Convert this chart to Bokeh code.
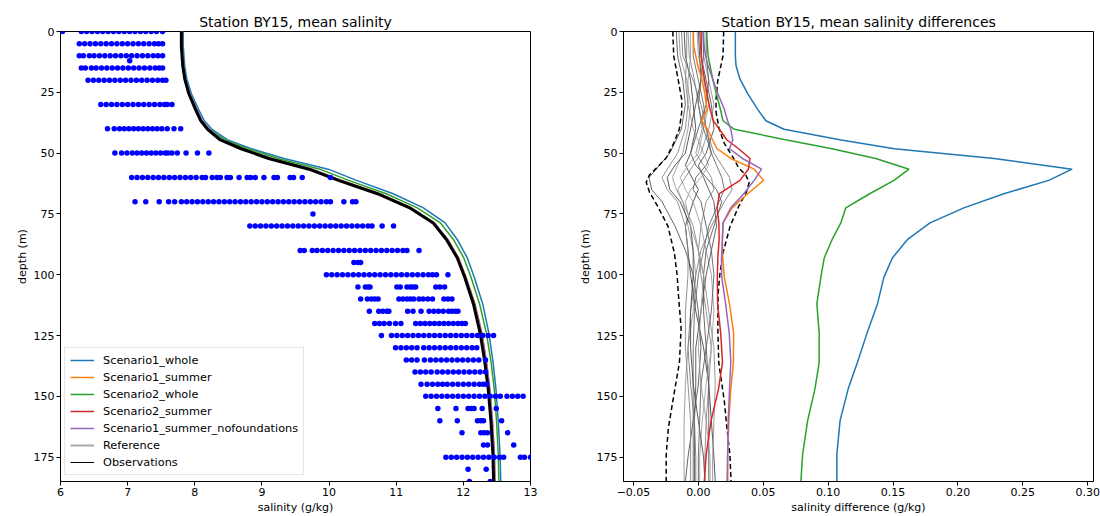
import numpy as np
from bokeh.plotting import figure
from bokeh.layouts import row
from bokeh.models import Range1d, FixedTicker, Legend, LegendItem, CustomJSTickFormatter
from bokeh.embed import file_html
from bokeh.resources import INLINE

FONT = "DejaVu Sans"

# ---------------- observations (left panel) ----------------
obs_depths = [0, 5, 10, 12, 15, 20, 30, 40, 50, 60, 70, 75, 80, 90, 95, 100,
              105, 110, 115, 120, 125, 130, 135, 140, 145, 150, 155, 160, 165,
              170, 175, 180, 185]
obs_values = [
    [6.03, 6.31, 6.39, 6.47, 6.55, 6.63, 6.71, 6.79, 6.87, 6.95, 7.03, 7.11, 7.19, 7.27, 7.35, 7.43, 7.52],
    [6.28, 6.36, 6.44, 6.52, 6.60, 6.68, 6.76, 6.84, 6.92, 7.00, 7.08, 7.16, 7.24, 7.32, 7.40, 7.46, 7.52],
    [6.28, 6.34, 6.43, 6.50, 6.58, 6.66, 6.74, 6.82, 6.90, 6.98, 7.06, 7.14, 7.22, 7.30, 7.38, 7.45, 7.52],
    [7.03],
    [6.31, 6.37, 6.46, 6.53, 6.61, 6.69, 6.77, 6.85, 6.93, 7.01, 7.09, 7.17, 7.25, 7.33, 7.41, 7.47, 7.52],
    [6.41, 6.49, 6.57, 6.65, 6.73, 6.81, 6.89, 6.97, 7.05, 7.13, 7.21, 7.29, 7.37, 7.45, 7.52, 7.57],
    [6.60, 6.68, 6.76, 6.84, 6.92, 7.00, 7.08, 7.16, 7.24, 7.32, 7.40, 7.48, 7.55, 7.59, 7.66],
    [6.70, 6.80, 6.88, 6.95, 7.02, 7.09, 7.16, 7.23, 7.30, 7.37, 7.44, 7.51, 7.59, 7.69, 7.79],
    [6.81, 6.91, 6.99, 7.07, 7.14, 7.21, 7.28, 7.35, 7.42, 7.49, 7.56, 7.60, 7.66, 7.74, 7.87, 8.04, 8.21],
    [7.06, 7.14, 7.22, 7.30, 7.38, 7.46, 7.54, 7.62, 7.70, 7.78, 7.86, 7.94, 8.02, 8.11, 8.16, 8.26,
     8.33, 8.38, 8.48, 8.53, 8.66, 8.78, 8.83, 8.90, 9.03, 9.18, 9.23, 9.42, 9.47, 9.60, 10.02],
    [7.11, 7.27, 7.47, 7.61, 7.70, 7.80, 7.88, 7.96, 8.04, 8.12, 8.20, 8.28, 8.36, 8.44, 8.52, 8.60,
     8.68, 8.76, 8.84, 8.92, 9.00, 9.08, 9.16, 9.24, 9.32, 9.40, 9.48, 9.56, 9.64, 9.72, 9.80, 9.88,
     9.96, 10.02, 10.22, 10.35, 10.40],
    [9.76],
    [8.82, 8.90, 8.98, 9.06, 9.14, 9.22, 9.30, 9.38, 9.46, 9.54, 9.62, 9.70, 9.78, 9.86, 9.94, 10.02,
     10.10, 10.18, 10.26, 10.34, 10.42, 10.50, 10.58, 10.64, 10.79, 10.96],
    [9.57, 9.63, 9.75, 9.82, 9.90, 9.98, 10.06, 10.14, 10.22, 10.30, 10.38, 10.46, 10.54, 10.62, 10.70,
     10.78, 10.86, 10.94, 11.02, 11.10, 11.16, 11.34],
    [10.37, 10.43, 10.47],
    [9.96, 10.04, 10.12, 10.20, 10.28, 10.36, 10.44, 10.52, 10.60, 10.68, 10.76, 10.84, 10.92, 11.00,
     11.08, 11.16, 11.24, 11.32, 11.40, 11.48, 11.54, 11.60, 11.77],
    [10.43, 10.54, 10.58, 10.61, 11.01, 11.06, 11.16, 11.21, 11.25, 11.29, 11.59, 11.65, 11.72],
    [10.47, 10.57, 10.63, 10.68, 10.73, 11.04, 11.10, 11.16, 11.21, 11.26, 11.34, 11.40, 11.47, 11.54,
     11.71, 11.77, 11.83],
    [10.60, 10.74, 10.80, 10.86, 10.89, 11.17, 11.25, 11.37, 11.49, 11.56, 11.63, 11.70, 11.78, 11.83,
     11.88, 11.92],
    [10.68, 10.75, 10.82, 10.90, 10.99, 11.07, 11.29, 11.36, 11.43, 11.50, 11.57, 11.64, 11.71, 11.78,
     11.85, 11.92, 11.98, 12.03],
    [10.78, 10.93, 11.01, 11.09, 11.17, 11.25, 11.33, 11.41, 11.49, 11.57, 11.65, 11.73, 11.81, 11.89,
     11.97, 12.05, 12.13, 12.21, 12.29, 12.37, 12.45],
    [10.99, 11.07, 11.15, 11.23, 11.31, 11.41, 11.49, 11.57, 11.65, 11.73, 11.81, 11.89, 11.97, 12.05,
     12.13, 12.20],
    [11.15, 11.23, 11.31, 11.42, 11.51, 11.59, 11.67, 11.75, 11.83, 11.91, 11.99, 12.07, 12.15, 12.23, 12.33],
    [11.28, 11.36, 11.44, 11.52, 11.61, 11.69, 11.77, 11.85, 11.93, 12.01, 12.09, 12.17, 12.25, 12.33],
    [11.37, 11.46, 11.54, 11.62, 11.69, 11.76, 11.84, 11.92, 12.00, 12.08, 12.16, 12.24, 12.30, 12.35],
    [11.44, 11.52, 11.60, 11.68, 11.76, 11.84, 11.92, 12.00, 12.08, 12.16, 12.24, 12.32, 12.40, 12.48,
     12.55, 12.65, 12.73, 12.81, 12.89],
    [11.62, 11.89, 12.07, 12.12, 12.16, 12.28, 12.49],
    [11.65, 11.91, 12.21, 12.26, 12.30, 12.57],
    [11.98, 12.26, 12.31, 12.36, 12.66],
    [12.30, 12.36, 12.75],
    [11.74, 11.82, 11.90, 11.98, 12.06, 12.14, 12.22, 12.30, 12.38, 12.46, 12.54, 12.60, 12.85, 12.91, 13.00],
    [12.07, 12.34],
    [12.09, 12.40],
]

# ---------------- model profiles ----------------
model_depth = [0, 2, 6, 10, 14, 19.5, 25.5, 32, 36.7, 40.2, 44.6, 48.2, 52.2, 56.6, 61.2, 66.7,
               72.5, 78.7, 85.6, 93.1, 101, 112, 124, 136, 147, 160, 174, 185]
reference_salinity = [7.80, 7.80, 7.80, 7.81, 7.82, 7.85, 7.91, 8.01, 8.09, 8.19, 8.38, 8.69, 9.10,
                      9.70, 10.14, 10.72, 11.20, 11.55, 11.75, 11.91, 12.02, 12.15, 12.25, 12.32,
                      12.37, 12.41, 12.44, 12.45]

diff_s1_whole = [0.0285, 0.0285, 0.0285, 0.0285, 0.029, 0.032, 0.038, 0.0457, 0.052, 0.066, 0.110,
                 0.151, 0.228, 0.288, 0.270, 0.2354, 0.2046, 0.1785, 0.161, 0.1495, 0.143, 0.138,
                 0.130, 0.1226, 0.1154, 0.1092, 0.1067, 0.1067]
diff_s1_summer = [-0.0038, -0.0038, -0.0036, -0.002, -0.0005, 0.0026, 0.005, 0.0067, 0.0026, 0.007,
                  0.011, 0.0144, 0.025, 0.043, 0.0503, 0.038, 0.026, 0.019, 0.0185, 0.0188, 0.020,
                  0.024, 0.0272, 0.027, 0.025, 0.0235, 0.0225, 0.022]
diff_s2_whole = [0.0065, 0.0065, 0.007, 0.0075, 0.009, 0.011, 0.0138, 0.017, 0.019, 0.0277, 0.068,
                 0.103, 0.1367, 0.1623, 0.1508, 0.132, 0.1136, 0.1098, 0.103, 0.097, 0.0944, 0.0913,
                 0.0931, 0.0931, 0.0898, 0.0842, 0.0803, 0.079]
diff_s2_summer = [0.0021, 0.0021, 0.0022, 0.0023, 0.003, 0.0046, 0.0066, 0.009, 0.0115, 0.0162, 0.022,
                  0.031, 0.0398, 0.0385, 0.032, 0.0162, 0.0144, 0.0158, 0.016, 0.015, 0.0146, 0.0148,
                  0.0172, 0.0186, 0.0155, 0.0098, 0.006, 0.0046]
diff_s1_summer_nofound = [0.004, 0.004, 0.0045, 0.0055, 0.0075, 0.011, 0.015, 0.020, 0.0225, 0.025,
                          0.0265, 0.024, 0.034, 0.0487, 0.043, 0.035, 0.025, 0.019, 0.0185, 0.0178,
                          0.018, 0.021, 0.0238, 0.025, 0.024, 0.023, 0.0226, 0.0226]

scenario_names = ["Scenario1_whole", "Scenario1_summer", "Scenario2_whole", "Scenario2_summer",
                  "Scenario1_summer_nofoundations"]
scenario_colors = ["#1f77b4", "#ff7f0e", "#2ca02c", "#d62728", "#9467bd"]
scenario_diffs = [diff_s1_whole, diff_s1_summer, diff_s2_whole, diff_s2_summer, diff_s1_summer_nofound]

# ---------------- observation variability (right panel) ----------------
env_depth = [0, 10, 20, 28, 33, 40, 46, 52, 56, 59, 62, 66, 72, 80, 91, 100, 108, 122, 136, 152, 163, 174, 185]
env_low = [-0.0197, -0.019, -0.0155, -0.0128, -0.0128, -0.0146, -0.019, -0.0248, -0.032, -0.0377,
           -0.0402, -0.0377, -0.0312, -0.0235, -0.0185, -0.0164, -0.0154, -0.0133, -0.0146, -0.0197,
           -0.0231, -0.0248, -0.0248]
env_high = [0.0195, 0.019, 0.015, 0.0136, 0.0136, 0.016, 0.020, 0.027, 0.031, 0.0365, 0.0392, 0.037,
            0.031, 0.0245, 0.019, 0.0165, 0.0152, 0.015, 0.0157, 0.020, 0.022, 0.0243, 0.0252]

thin_depth = [0, 10, 20, 30, 40, 50, 55, 60, 65, 70, 80, 90, 100, 115, 130, 145, 160, 175, 185]
thin_lines = [
    [-0.017, -0.016, -0.012, -0.010, -0.013, -0.022, -0.030, -0.038, -0.036, -0.028, -0.018, -0.010, -0.004, 0.000, 0.002, 0.000, -0.004, -0.008, -0.010],
    [-0.015, -0.014, -0.009, -0.006, -0.008, -0.012, -0.016, -0.020, -0.017, -0.012, -0.008, -0.004, -0.002, -0.004, -0.008, -0.010, -0.011, -0.011, -0.011],
    [-0.011, -0.010, -0.006, -0.004, -0.002, -0.006, -0.010, -0.005, 0.000, -0.004, -0.010, -0.008, -0.006, -0.002, 0.004, 0.008, 0.010, 0.012, 0.013],
    [-0.008, -0.007, -0.003, 0.000, 0.003, -0.002, 0.004, 0.010, 0.012, 0.006, 0.002, 0.000, 0.002, 0.006, 0.010, 0.008, 0.006, 0.005, 0.005],
    [-0.004, -0.004, 0.000, 0.004, 0.006, 0.010, 0.014, 0.018, 0.020, 0.016, 0.008, 0.004, 0.000, -0.003, -0.004, -0.004, -0.004, -0.004, -0.004],
    [-0.001, 0.000, 0.004, 0.008, 0.004, 0.000, -0.008, -0.014, -0.010, -0.004, 0.002, 0.006, 0.010, 0.012, 0.010, 0.006, 0.003, 0.001, 0.001],
    [0.001, 0.002, 0.006, 0.010, 0.012, 0.006, 0.000, 0.004, 0.008, 0.012, 0.014, 0.010, 0.006, 0.002, -0.002, -0.002, -0.003, -0.003, -0.003],
    [0.003, 0.004, 0.008, 0.012, 0.008, 0.002, -0.004, -0.010, -0.016, -0.012, -0.004, 0.000, 0.004, 0.008, 0.012, 0.013, 0.012, 0.011, 0.011],
    [0.006, 0.006, 0.008, 0.006, 0.000, -0.006, -0.002, 0.006, 0.014, 0.018, 0.012, 0.006, 0.004, 0.004, 0.006, 0.008, 0.008, 0.008, 0.008],
    [-0.013, -0.012, -0.004, 0.002, 0.006, 0.012, 0.018, 0.024, 0.026, 0.020, 0.010, 0.002, -0.002, -0.006, -0.008, -0.006, -0.003, -0.002, -0.002],
    [0.000, 0.001, 0.002, -0.002, -0.006, -0.010, -0.018, -0.024, -0.022, -0.014, -0.006, -0.004, -0.004, -0.006, -0.006, -0.004, 0.000, 0.004, 0.005],
    [-0.006, -0.006, -0.008, -0.008, -0.004, 0.004, 0.008, 0.002, -0.006, -0.010, -0.006, 0.000, 0.004, 0.002, 0.000, 0.002, 0.006, 0.009, 0.009],
    [0.004, 0.004, 0.002, 0.000, 0.004, 0.010, 0.006, -0.002, -0.004, 0.002, 0.006, 0.010, 0.012, 0.010, 0.006, 0.002, 0.001, 0.000, 0.000],
    [-0.009, -0.009, -0.010, -0.008, -0.010, -0.016, -0.022, -0.028, -0.024, -0.016, -0.010, -0.008, -0.008, -0.010, -0.010, -0.008, -0.006, -0.006, -0.006],
]
thin_colors = ["#555555", "#999999", "#444444", "#8a8a8a", "#666666", "#a0a0a0", "#505050",
               "#909090", "#5a5a5a", "#7a7a7a", "#484848", "#9a9a9a", "#606060", "#858585"]

left_xticks = [6, 7, 8, 9, 10, 11, 12, 13]
depth_ticks = [0, 25, 50, 75, 100, 125, 150, 175]
right_xticks = [-0.05, 0.0, 0.05, 0.10, 0.15, 0.20, 0.25, 0.30]


def style(p, xticks):
    p.outline_line_color = "black"
    p.outline_line_width = 1
    p.xgrid.visible = False
    p.ygrid.visible = False
    p.xaxis.ticker = FixedTicker(ticks=xticks, minor_ticks=[])
    p.yaxis.ticker = FixedTicker(ticks=depth_ticks, minor_ticks=[])
    for ax in p.xaxis + p.yaxis:
        ax.axis_line_color = "black"
        ax.major_tick_line_color = "black"
        ax.major_tick_out = 4
        ax.major_tick_in = 0
        ax.minor_tick_line_color = None
        ax.major_label_text_font = FONT
        ax.major_label_text_font_size = "11px"
        ax.major_label_text_color = "black"
        ax.major_label_standoff = 2
        ax.axis_label_text_font = FONT
        ax.axis_label_text_font_size = "11px"
        ax.axis_label_text_font_style = "normal"
        ax.axis_label_text_color = "black"
        ax.axis_label_standoff = 2
    p.title.text_font = FONT
    p.title.text_font_size = "14px"
    p.title.text_font_style = "normal"
    p.title.text_color = "black"
    p.title.align = "center"
    p.title.standoff = 3


# ---------------- left panel ----------------
p1 = figure(width=560, height=516, x_range=Range1d(6, 13), y_range=Range1d(185, 0),
            output_backend="svg", toolbar_location=None,
            min_border_left=60, min_border_right=30, min_border_top=31, min_border_bottom=20,
            title="Station BY15, mean salinity",
            x_axis_label="salinity (g/kg)", y_axis_label="depth (m)")
style(p1, left_xticks)

ref_arr = np.array(reference_salinity)
legend_items = []
for name, col, diff in zip(scenario_names, scenario_colors, scenario_diffs):
    r = p1.line(ref_arr + np.array(diff), model_depth, line_color=col, line_width=1.5)
    legend_items.append(LegendItem(label=name, renderers=[r]))
p1.line(reference_salinity, model_depth, line_color="black", line_width=3)

obs_x, obs_y = [], []
for dep, vals in zip(obs_depths, obs_values):
    obs_x.extend(vals)
    obs_y.extend([dep] * len(vals))
p1.scatter(obs_x, obs_y, size=5.5, fill_color="#0000ff", line_color="#0000ff", line_width=0)

# legend-only renderers (no visible data)
ref_dummy = p1.line([np.nan, np.nan], [np.nan, np.nan], line_color="#a8a8a8", line_width=2)
obs_dummy = p1.line([np.nan, np.nan], [np.nan, np.nan], line_color="black", line_width=1)
legend_items.append(LegendItem(label="Reference", renderers=[ref_dummy]))
legend_items.append(LegendItem(label="Observations", renderers=[obs_dummy]))

legend = Legend(items=legend_items, location=(4, 6))
legend.label_text_font = FONT
legend.label_text_font_size = "11.3px"
legend.label_text_color = "black"
legend.glyph_width = 24
legend.glyph_height = 14
legend.label_height = 14
legend.spacing = 3
legend.padding = 5
legend.margin = 0
legend.label_standoff = 9
legend.border_line_color = "#cccccc"
legend.border_line_width = 1
legend.background_fill_alpha = 0.8
p1.add_layout(legend)

# ---------------- right panel ----------------
p2 = figure(width=540, height=516, x_range=Range1d(-0.0577, 0.3045), y_range=Range1d(185, 0),
            output_backend="svg", toolbar_location=None,
            min_border_left=63, min_border_right=7, min_border_top=31, min_border_bottom=20,
            title="Station BY15, mean salinity differences",
            x_axis_label="salinity difference (g/kg)", y_axis_label="depth (m)")
style(p2, right_xticks)
p2.xaxis.formatter = CustomJSTickFormatter(
    code="return tick.toFixed(2).replace('-', '\u2212');")

for vals, col in zip(thin_lines, thin_colors):
    p2.line(vals, thin_depth, line_color=col, line_width=0.9)
p2.line(env_low, env_depth, line_color="black", line_width=1.5, line_dash="5 3")
p2.line(env_high, env_depth, line_color="black", line_width=1.5, line_dash="5 3")
for col, diff in zip(scenario_colors, scenario_diffs):
    p2.line(diff, model_depth, line_color=col, line_width=1.5)

layout = row(p1, p2, spacing=0)
open("out.html", "w").write(file_html(layout, INLINE))
